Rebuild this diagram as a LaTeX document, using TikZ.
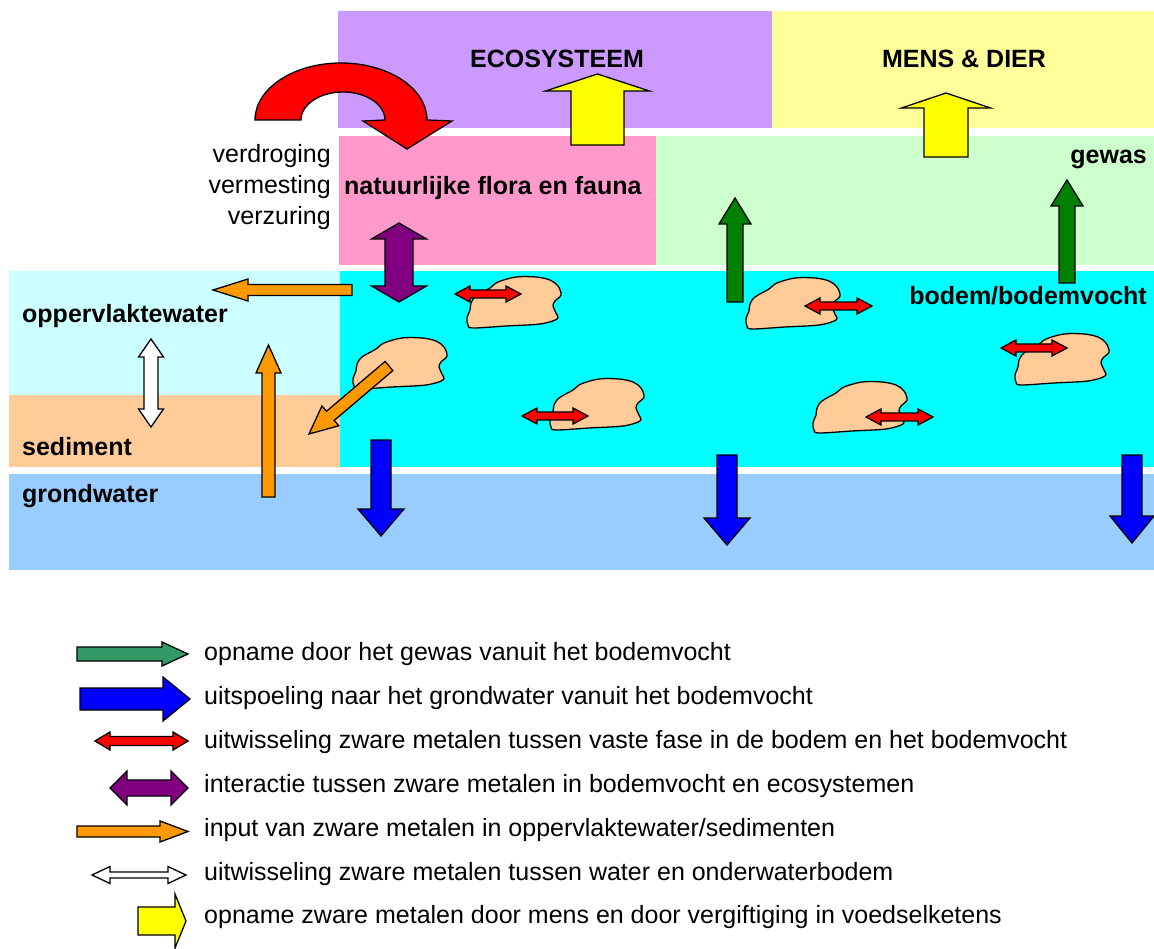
\documentclass[tikz,border=0pt]{standalone}
\usepackage{fontspec}
\setmainfont{Liberation Sans}
\usetikzlibrary{calc}
\definecolor{cEco}{HTML}{CC99FF}
\definecolor{cMens}{HTML}{FFFF99}
\definecolor{cFlora}{HTML}{FF99CC}
\definecolor{cGewas}{HTML}{CCFFCC}
\definecolor{cBodem}{HTML}{00FFFF}
\definecolor{cOpp}{HTML}{CCFFFF}
\definecolor{cSed}{HTML}{FFCC99}
\definecolor{cGrond}{HTML}{99CCFF}
\definecolor{cRed}{HTML}{FF0000}
\definecolor{cPurple}{HTML}{800080}
\definecolor{cOrange}{HTML}{FF9900}
\definecolor{cGreen}{HTML}{008000}
\definecolor{cLGreen}{HTML}{339966}
\definecolor{cBlue}{HTML}{0000FF}
\definecolor{cYellow}{HTML}{FFFF00}
\newcommand\sarrow[6]{%
  \coordinate (sa-s) at #2; \coordinate (sa-e) at #3;
  \coordinate (sa-h) at ($(sa-e)!#6!(sa-s)$);
  \draw[#1] ($(sa-s)!#4!90:(sa-e)$) -- ($(sa-h)!#4!90:(sa-e)$) -- ($(sa-h)!#5!90:(sa-e)$) -- (sa-e)
    -- ($(sa-h)!#5!-90:(sa-e)$) -- ($(sa-h)!#4!-90:(sa-e)$) -- ($(sa-s)!#4!-90:(sa-e)$) -- cycle;}
\newcommand\darrow[6]{%
  \coordinate (da-s) at #2; \coordinate (da-e) at #3;
  \coordinate (da-h) at ($(da-e)!#6!(da-s)$);
  \coordinate (da-g) at ($(da-s)!#6!(da-e)$);
  \draw[#1] (da-s) -- ($(da-g)!#5!90:(da-e)$) -- ($(da-g)!#4!90:(da-e)$) -- ($(da-h)!#4!90:(da-e)$)
    -- ($(da-h)!#5!90:(da-e)$) -- (da-e) -- ($(da-h)!#5!-90:(da-e)$) -- ($(da-h)!#4!-90:(da-e)$)
    -- ($(da-g)!#4!-90:(da-e)$) -- ($(da-g)!#5!-90:(da-e)$) -- cycle;}
\tikzset{
  arr/.style={draw=black, line width=1.3pt},
  blobstyle/.style={draw=black, line width=1.3pt, fill=cSed},
  blob/.pic={\draw[blobstyle] plot[smooth cycle, tension=0.55] coordinates {
    (31,5) (49,0) (69,0) (83,3) (91,9) (94,18) (88,24) (86,29) (89,36) (90,42)
    (73,47) (39,49) (6,51) (1,48) (0,41) (3,33) (4,26) (9,19) (23,11)};},
  lbl/.style={font=\fontsize{25}{30}\selectfont\bfseries, inner sep=0pt},
  txt/.style={font=\fontsize{25}{30}\selectfont, inner sep=0pt},
}
\begin{document}
\begin{tikzpicture}[x=1pt, y=-1pt]
\useasboundingbox (0,0) rectangle (1154,949);
% regions
\fill[cEco] (338,11) rectangle (772,128);
\fill[cMens] (772,11) rectangle (1154,128);
\fill[cFlora] (339,136) rectangle (656,265);
\fill[cGewas] (656,136) rectangle (1154,265);
\fill[cOpp] (9,271) rectangle (340,395);
\fill[cSed] (9,395) rectangle (340,467);
\fill[cBodem] (340,271) rectangle (1154,467);
\fill[cGrond] (9,474) rectangle (1154,570);
% labels
\node[lbl, anchor=base] (eco) at (557,68) {ECOSYSTEEM};
\node[lbl, anchor=base] (mens) at (964,68) {MENS \& DIER};
\node[lbl, anchor=base east] (gewas) at (1147,164) {gewas};
\node[lbl, anchor=base west] (flora) at (344,195) {natuurlijke flora en fauna};
\node[txt, anchor=base east] (v1) at (331,163) {verdroging};
\node[txt, anchor=base east] (v2) at (331,194) {vermesting};
\node[txt, anchor=base east] (v3) at (331,225) {verzuring};
\node[lbl, anchor=base east] (bodem) at (1147,305) {bodem/bodemvocht};
\node[lbl, anchor=base west] (opp) at (22,323) {oppervlaktewater};
\node[lbl, anchor=base west] (sed) at (22,455) {sediment};
\node[lbl, anchor=base west] (grond) at (22,502) {grondwater};
% blobs
\pic at (467,277) {blob};
\pic at (550,379) {blob};
\pic at (746,278) {blob};
\pic at (813,382) {blob};
\pic at (1015,334) {blob};
\pic at (353,338) {blob};
% red curved arrow
\draw[arr, fill=cRed] (255,120) arc[start angle=180, end angle=0, x radius=86pt, y radius=57pt]
  -- (452,121) -- (407,149) -- (363,121) -- (385,120)
  arc[start angle=0, end angle=180, x radius=42pt, y radius=28pt] -- cycle;
% yellow arrows
\sarrow{arr, fill=cYellow}{(597.5,145)}{(597.5,74)}{26.5pt}{52pt}{17pt}
\sarrow{arr, fill=cYellow}{(946,157)}{(946,93)}{22pt}{44.5pt}{15pt}
% green arrows
\sarrow{arr, fill=cGreen}{(735,302)}{(735,198)}{8pt}{16pt}{26pt}
\sarrow{arr, fill=cGreen}{(1067,283)}{(1067,180)}{8pt}{16pt}{26pt}
% purple double arrow
\darrow{arr, fill=cPurple}{(399,223)}{(399,302)}{14pt}{27.5pt}{16pt}
% orange arrows
\sarrow{arr, fill=cOrange}{(352,290)}{(213,290)}{5.5pt}{11pt}{35pt}
\sarrow{arr, fill=cOrange}{(268.5,497)}{(268.5,345)}{6.5pt}{12.5pt}{28pt}
\sarrow{arr, fill=cOrange}{(389,366)}{(309,434)}{6pt}{13pt}{28pt}
% white double arrow
\darrow{arr, fill=white}{(151,339)}{(151,427)}{7pt}{12.5pt}{18pt}
% blue arrows
\sarrow{arr, fill=cBlue}{(381,440)}{(381,536)}{10pt}{23pt}{27pt}
\sarrow{arr, fill=cBlue}{(727,455)}{(727,545)}{10pt}{23pt}{27pt}
\sarrow{arr, fill=cBlue}{(1132,455)}{(1132,543)}{10pt}{22pt}{27pt}
% red small double arrows
\darrow{arr, fill=cRed}{(455,294)}{(521,294)}{4pt}{8pt}{15pt}
\darrow{arr, fill=cRed}{(522,416)}{(588,416)}{4pt}{8pt}{15pt}
\darrow{arr, fill=cRed}{(805,306)}{(872,306)}{4pt}{8pt}{15pt}
\darrow{arr, fill=cRed}{(866,417)}{(933,417)}{4pt}{8pt}{15pt}
\darrow{arr, fill=cRed}{(1001,348)}{(1067,348)}{4pt}{8pt}{15pt}
% legend
\sarrow{arr, fill=cLGreen}{(77,654)}{(188,654)}{7pt}{12pt}{26pt}
\sarrow{arr, fill=cBlue}{(80,699)}{(190,699)}{11pt}{22pt}{27pt}
\darrow{arr, fill=cRed}{(95,741)}{(188,741)}{4.5pt}{9pt}{15pt}
\darrow{arr, fill=cPurple}{(110,788)}{(188,788)}{8pt}{17pt}{17pt}
\sarrow{arr, fill=cOrange}{(77,831.5)}{(188,831.5)}{5.5pt}{10.5pt}{28pt}
\darrow{arr, fill=white}{(92,875)}{(186,875)}{3pt}{8.5pt}{18pt}
\sarrow{arr, fill=cYellow}{(138,921)}{(186,921)}{14pt}{27pt}{11pt}
\node[txt, anchor=base west] (l1) at (204,660) {opname door het gewas vanuit het bodemvocht};
\node[txt, anchor=base west] (l2) at (204,704) {uitspoeling naar het grondwater vanuit het bodemvocht};
\node[txt, anchor=base west] (l3) at (204,748) {uitwisseling zware metalen tussen vaste fase in de bodem en het bodemvocht};
\node[txt, anchor=base west] (l4) at (204,792) {interactie tussen zware metalen in bodemvocht en ecosystemen};
\node[txt, anchor=base west] (l5) at (204,836) {input van zware metalen in oppervlaktewater/sedimenten};
\node[txt, anchor=base west] (l6) at (204,880) {uitwisseling zware metalen tussen water en onderwaterbodem};
\node[txt, anchor=base west] (l7) at (204,923) {opname zware metalen door mens en door vergiftiging in voedselketens};
\end{tikzpicture}
\end{document}
